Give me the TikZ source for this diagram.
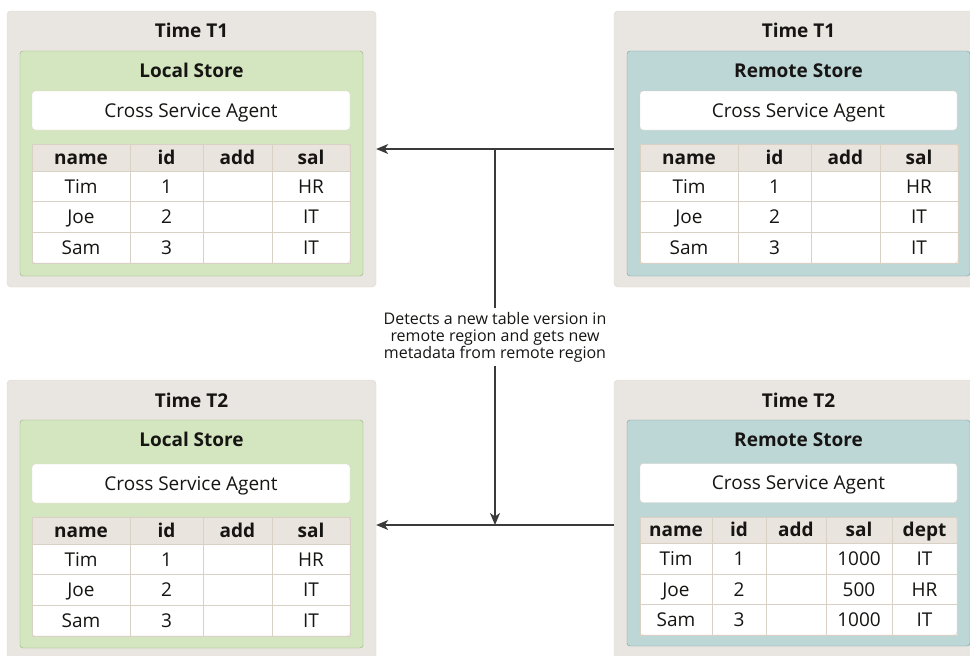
\documentclass[tikz,border=0pt]{standalone}
\usepackage{fontspec}
\setmainfont{Open Sans}
\usetikzlibrary{arrows.meta}

\definecolor{panelbg}{HTML}{E9E5E0}
\definecolor{panelline}{HTML}{DCD6CF}
\definecolor{localbg}{HTML}{D4E6C0}
\definecolor{localline}{HTML}{92B27A}
\definecolor{remotebg}{HTML}{BDD6D6}
\definecolor{remoteline}{HTML}{7D9FA1}
\definecolor{headbg}{HTML}{E9E4DD}
\definecolor{gridline}{HTML}{D9D1C6}
\definecolor{ink}{HTML}{161513}
\definecolor{wire}{HTML}{3A3A3A}

\begin{document}
\begin{tikzpicture}[x=1pt,y=-1pt,
  every node/.style={text=ink,font=\fontsize{19}{22}\selectfont},
  panel/.style={draw=panelline,fill=panelbg,rounded corners=4pt,minimum width=369,inner sep=0pt},
  local store/.style={draw=localline,fill=localbg,rounded corners=3pt,minimum width=343,inner sep=0pt},
  remote store/.style={draw=remoteline,fill=remotebg,rounded corners=3pt,minimum width=343,inner sep=0pt},
  title/.style={font=\fontsize{19}{22}\selectfont\bfseries,text height=13.6,text depth=0,inner sep=0pt},
  store name/.style={title},
  agent/.style={draw=gridline,fill=white,rounded corners=3pt,minimum width=318,minimum height=39,
    text height=13.6,text depth=0,inner sep=0pt},
  cell/.style={draw=gridline,fill=white,minimum height=30.67,text height=13.6,text depth=0,inner sep=0pt},
  head cell/.style={cell,fill=headbg,minimum height=27,font=\fontsize{19}{22}\selectfont\bfseries},
  tbl frame/.style={draw=gridline,rounded corners=3pt,inner sep=0pt},
  note/.style={font=\fontsize{16}{17}\selectfont,align=center,inner sep=4pt},
  wire/.style={draw=wire,line width=1.3pt},
  flow/.style={wire,-{Stealth[length=12pt,width=10pt,inset=3.5pt]}}]

  \useasboundingbox (0,0) rectangle (970,656);
  \clip (0,0) rectangle (970,656);

  % time panels
  \node[panel,minimum height=276] (t1local) at (191.5,149) {};
  \node[panel,minimum height=276] (t1remote) at (798.5,149) {};
  \node[panel,minimum height=290] (t2local) at (191.5,525) {};
  \node[panel,minimum height=290] (t2remote) at (798.5,525) {};

  \node[title] (t1ltitle) at (191.5,31) {Time T1};
  \node[title] (t1rtitle) at (798.5,31) {Time T1};
  \node[title] (t2ltitle) at (191.5,401) {Time T2};
  \node[title] (t2rtitle) at (798.5,401) {Time T2};

  % stores
  \node[local store,minimum height=225] (t1lstore) at (191.5,163.5) {};
  \node[remote store,minimum height=225] (t1rstore) at (798.5,163.5) {};
  \node[local store,minimum height=228] (t2lstore) at (191.5,534) {};
  \node[remote store,minimum height=226] (t2rstore) at (798.5,533) {};

  \node[store name] (t1lname) at (191.5,71) {Local Store};
  \node[store name] (t1rname) at (798.5,71) {Remote Store};
  \node[store name] (t2lname) at (191.5,440) {Local Store};
  \node[store name] (t2rname) at (798.5,440) {Remote Store};

  \node[agent] (t1lagent) at (191,110.5) {Cross Service Agent};
  \node[agent,minimum width=317] (t1ragent) at (798.5,110.5) {Cross Service Agent};
  \node[agent] (t2lagent) at (191,483.5) {Cross Service Agent};
  \node[agent,minimum width=317] (t2ragent) at (798.5,483) {Cross Service Agent};

  % the three unchanged tables
  \foreach \p/\dx/\dy in {t1l/0/0, t1r/608/0, t2l/0/373} {
    \begin{scope}[shift={(\dx,\dy)}]
      \foreach \h/\cx/\w in {name/81/98, id/166.5/73, add/237.5/69, sal/311/78}
        \node[head cell,minimum width=\w] (\p-\h) at (\cx,157.5) {\h};
      \foreach \n/\i/\s [count=\r] in {Tim/1/HR, Joe/2/IT, Sam/3/IT} {
        \node[cell,minimum width=98] (\p-name\r) at (81,{155.67+30.67*\r}) {\n};
        \node[cell,minimum width=73] (\p-id\r) at (166.5,{155.67+30.67*\r}) {\i};
        \node[cell,minimum width=69] (\p-add\r) at (237.5,{155.67+30.67*\r}) {};
        \node[cell,minimum width=78] (\p-sal\r) at (311,{155.67+30.67*\r}) {\s};
      }
      \node[tbl frame,minimum width=318,minimum height=119] (\p-frame) at (191,203.5) {};
    \end{scope}
  }

  % new table version at T2
  \foreach \h/\cx/\w in {name/676/72, id/739/54, add/796/60, sal/859/66, dept/924.5/65}
    \node[head cell,minimum width=\w,minimum height=26] (t2r-\h) at (\cx,530) {\h};
  \foreach \n/\i/\s/\d [count=\r] in {Tim/1/1000/IT, Joe/2/500/HR, Sam/3/1000/IT} {
    \node[cell,minimum width=72] (t2r-name\r) at (676,{528+30.67*\r}) {\n};
    \node[cell,minimum width=54] (t2r-id\r) at (739,{528+30.67*\r}) {\i};
    \node[cell,minimum width=60] (t2r-add\r) at (796,{528+30.67*\r}) {};
    \node[cell,minimum width=66] (t2r-sal\r) at (859,{528+30.67*\r}) {\s};
    \node[cell,minimum width=65] (t2r-dept\r) at (924.5,{528+30.67*\r}) {\d};
  }
  \node[tbl frame,minimum width=317,minimum height=118] (t2r-frame) at (798.5,576) {};

  % sync
  \node[note] (detect) at (495,337) {Detects a new table version in\\remote region and gets new\\metadata from remote region};
  \draw[flow] (t1remote.west) -- (t1local.east);
  \draw[flow] (t2remote.west) -- (t2local.east);
  \draw[wire] (detect.north) -- (detect.north |- t1local.east);
  \draw[flow] (detect.south) -- (detect.south |- t2local.east);
\end{tikzpicture}
\end{document}
